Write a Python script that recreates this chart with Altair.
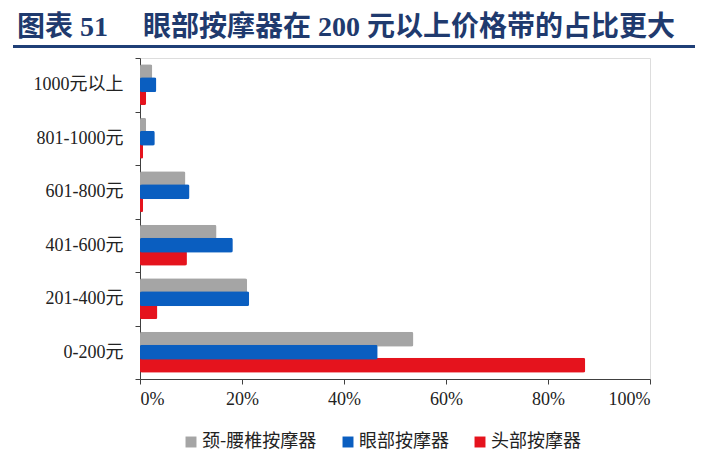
import altair as alt
import pandas as pd

categories = ["1000元以上", "801-1000元", "601-800元", "401-600元", "201-400元", "0-200元"]
neck_waist = [0.024, 0.012, 0.089, 0.150, 0.210, 0.536]
eye = [0.032, 0.029, 0.097, 0.182, 0.214, 0.466]
head = [0.012, 0.006, 0.006, 0.092, 0.034, 0.873]
series_names = ["颈-腰椎按摩器", "眼部按摩器", "头部按摩器"]
series_colors = ["#A5A5A5", "#0A5EC0", "#E5131D"]
title_left = "图表 51"
title_main = "眼部按摩器在 200 元以上价格带的占比更大"

rows = []
for name, vals in zip(series_names, [neck_waist, eye, head]):
    for c, v in zip(categories, vals):
        rows.append({"cat": c, "series": name, "value": v})
df = pd.DataFrame(rows)

LABEL_FONT = "Liberation Serif, Noto Sans CJK SC"

color_enc = alt.Color(
    "series:N",
    scale=alt.Scale(domain=series_names, range=series_colors),
    legend=alt.Legend(
        title=None, orient="none", legendX=42, legendY=375,
        direction="horizontal", symbolType="square", symbolSize=120,
        symbolStrokeWidth=0, labelFont="Noto Sans CJK SC", labelFontSize=18,
        labelColor="#222222", columnPadding=22, labelOffset=2,
    ),
)

x_enc = alt.X(
    "value:Q",
    scale=alt.Scale(domain=[0, 1], nice=False),
    axis=alt.Axis(
        title=None, format=".0%", values=[0, 0.2, 0.4, 0.6, 0.8, 1.0], grid=False,
        labelFont=LABEL_FONT, labelFontSize=18, labelColor="#222222",
        domainColor="#404040", tickColor="#404040", tickSize=5, labelPadding=6,
    ),
)

y_enc = alt.Y(
    "cat:N", sort=categories,
    scale=alt.Scale(domain=categories, paddingInner=0, paddingOuter=0),
    axis=alt.Axis(
        title=None, tickBand="extent", tickSize=5, labelPadding=12,
        labelFont=LABEL_FONT, labelFontSize=18, labelColor="#222222",
        domainColor="#404040", tickColor="#404040",
    ),
)

base = alt.Chart(df)
gray = base.transform_filter(alt.datum.series == series_names[0]).mark_bar(
    size=15, yOffset=-13, cornerRadius=2).encode(x=x_enc, y=y_enc, color=color_enc)
red = base.transform_filter(alt.datum.series == series_names[2]).mark_bar(
    size=15, yOffset=13, cornerRadius=2).encode(x=x_enc, y=y_enc, color=color_enc)
blue = base.transform_filter(alt.datum.series == series_names[1]).mark_bar(
    size=15, yOffset=0, cornerRadius=2).encode(x=x_enc, y=y_enc, color=color_enc)

tdf = pd.DataFrame({"a": [title_left], "b": [title_main]})
t1 = alt.Chart(tdf).mark_text(
    align="left", baseline="middle", font="Liberation Serif, Noto Sans CJK SC",
    fontSize=28, fontWeight="bold", color="#1F3A6E",
).encode(text="a:N", x=alt.value(-123), y=alt.value(-30))
t2 = alt.Chart(tdf).mark_text(
    align="left", baseline="middle", font="Liberation Serif, Noto Sans CJK SC",
    fontSize=28, fontWeight="bold", color="#1F3A6E",
).encode(text="b:N", x=alt.value(3), y=alt.value(-30))
underline = alt.Chart(tdf).mark_rule(color="#1F3F77", strokeWidth=3).encode(
    x=alt.value(-127), x2=alt.value(560), y=alt.value(-11.5))

chart = alt.layer(gray, red, blue, t1, t2, underline).properties(
    width=510, height=321,
    autosize=alt.AutoSizeParams(type="none"),
    padding={"left": 132, "top": 50, "right": 45, "bottom": 76},
).configure_view(strokeWidth=0).configure(background="white")

chart.save("out.html", embed_options={"renderer": "svg", "actions": False})
